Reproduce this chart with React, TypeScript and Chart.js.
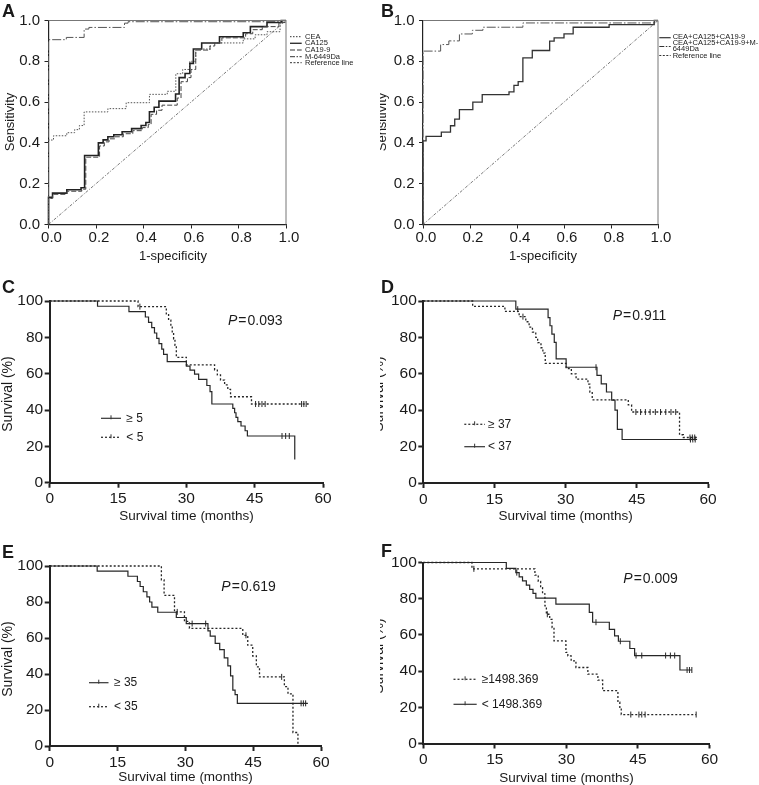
import React, { useEffect, useRef } from "react";
import { Chart, registerables } from "chart.js";
Chart.register(...registerables);

const FONT = "'Liberation Sans', Arial, Helvetica, sans-serif";

// ---------- tick labels ----------
const rocTickVals = [0, 0.2, 0.4, 0.6, 0.8, 1.0];
const rocTickLabels = ["0.0", "0.2", "0.4", "0.6", "0.8", "1.0"];
const survXVals = [0, 15, 30, 45, 60];
const survXLabels = ["0", "15", "30", "45", "60"];
const survYVals = [0, 20, 40, 60, 80, 100];
const survYLabels = ["0", "20", "40", "60", "80", "100"];

// ---------- Panel A (ROC, single markers) ----------
const refX = [0, 1];
const refY = [0, 1];
const ceaFpr = [0, 0, 0.021, 0.077, 0.11, 0.13, 0.15, 0.25, 0.327, 0.425, 0.5, 0.536, 0.565, 0.595, 0.62, 0.68, 0.82, 0.87, 0.92, 0.975, 1];
const ceaTpr = [0, 0.414, 0.435, 0.45, 0.465, 0.485, 0.552, 0.568, 0.597, 0.638, 0.653, 0.739, 0.76, 0.8, 0.86, 0.89, 0.91, 0.93, 0.945, 1.0, 1.0];
const ca125Fpr = [0, 0, 0.017, 0.077, 0.137, 0.152, 0.21, 0.23, 0.25, 0.275, 0.31, 0.35, 0.39, 0.41, 0.425, 0.445, 0.465, 0.535, 0.55, 0.575, 0.595, 0.61, 0.645, 0.72, 0.82, 0.85, 0.92, 0.98, 1];
const ca125Tpr = [0, 0.133, 0.154, 0.17, 0.18, 0.338, 0.4, 0.415, 0.43, 0.44, 0.455, 0.47, 0.485, 0.5, 0.553, 0.575, 0.605, 0.64, 0.72, 0.74, 0.79, 0.86, 0.89, 0.92, 0.94, 0.97, 0.99, 1.0, 1.0];
const ca199Fpr = [0, 0, 0.017, 0.077, 0.14, 0.157, 0.215, 0.235, 0.255, 0.28, 0.315, 0.355, 0.395, 0.42, 0.432, 0.455, 0.478, 0.542, 0.558, 0.585, 0.6, 0.62, 0.68, 0.7, 0.73, 0.83, 0.86, 0.9, 0.97, 1];
const ca199Tpr = [0, 0.128, 0.148, 0.163, 0.173, 0.33, 0.385, 0.405, 0.42, 0.43, 0.445, 0.46, 0.475, 0.49, 0.54, 0.56, 0.585, 0.62, 0.7, 0.72, 0.76, 0.855, 0.875, 0.89, 0.915, 0.935, 0.955, 0.97, 0.99, 1.0];
const m6449Fpr = [0, 0, 0.075, 0.15, 0.17, 0.32, 0.335, 0.985, 1];
const m6449Tpr = [0, 0.906, 0.917, 0.958, 0.966, 0.987, 0.994, 1.0, 1.0];

// ---------- Panel B (ROC, combinations) ----------
const combo3Fpr = [0, 0, 0.013, 0.078, 0.117, 0.135, 0.155, 0.212, 0.252, 0.366, 0.387, 0.405, 0.425, 0.465, 0.539, 0.558, 0.6, 0.639, 0.792, 0.984, 1];
const combo3Tpr = [0, 0.41, 0.432, 0.453, 0.484, 0.517, 0.563, 0.6, 0.637, 0.65, 0.682, 0.7, 0.817, 0.853, 0.899, 0.915, 0.934, 0.967, 0.98, 1.0, 1.0];
const combo4Fpr = [0, 0, 0.075, 0.11, 0.155, 0.21, 0.255, 0.425, 0.984, 1];
const combo4Tpr = [0, 0.85, 0.882, 0.9, 0.934, 0.952, 0.967, 0.988, 1.0, 1.0];

// ---------- Panel C (survival) ----------
const cHighT = [0, 10.5, 17.4, 21.0, 21.7, 22.4, 23.0, 23.5, 24.0, 24.6, 25.0, 25.8, 30.0, 30.8, 31.8, 32.7, 34.5, 35.2, 35.6, 40.2, 40.6, 40.9, 41.3, 42.0, 42.9, 43.4, 53.8];
const cHighS = [100, 97.1, 94.1, 91.2, 88.2, 85.3, 82.4, 79.4, 76.5, 73.5, 70.6, 66.6, 64.2, 62.0, 59.8, 56.9, 53.5, 50.1, 43.3, 40.9, 38.5, 36.0, 33.6, 31.2, 28.6, 25.7, 12.8];
const cHighCens = [51.0, 51.8, 52.6];
const cLowT = [0, 19.4, 25.6, 26.1, 26.6, 26.9, 27.2, 27.5, 27.8, 30.0, 36.2, 36.8, 37.5, 38.4, 39.1, 39.7, 44.3, 57.1];
const cLowS = [100, 96.9, 92.9, 89.4, 86.0, 82.5, 79.1, 75.6, 69.0, 64.8, 62.0, 59.3, 56.5, 53.8, 51.4, 47.3, 43.3, 43.3];
const cLowCens = [19.8, 45.2, 45.9, 46.6, 47.3, 55.3, 55.8, 56.3];

// ---------- Panel D ----------
const dHighT = [0, 10.4, 17.2, 20.2, 21.6, 22.3, 23.0, 23.7, 24.1, 24.8, 25.2, 25.7, 30.1, 31.2, 32.2, 34.7, 35.1, 35.6, 43.2, 43.9, 54.0, 54.8, 57.7];
const dHighS = [100, 97.1, 94.3, 91.4, 88.6, 85.7, 82.9, 80.0, 77.1, 74.3, 71.4, 65.7, 62.9, 60.0, 57.1, 54.3, 50.0, 45.7, 42.9, 39.0, 26.5, 25.0, 25.0];
const dHighCens = [21.0, 44.8, 45.8, 46.8, 47.8, 48.9, 50.0, 51.1, 52.2, 53.2, 56.2, 56.7, 57.2];
const dLowT = [0, 19.5, 26.3, 26.7, 27.1, 27.6, 28.0, 30.1, 36.6, 37.5, 38.6, 39.7, 40.4, 40.9, 41.9, 57.7];
const dLowS = [100, 95.5, 90.9, 86.4, 81.8, 77.3, 68.2, 63.6, 59.1, 54.5, 50.0, 45.5, 40.0, 29.5, 23.9, 23.9];
const dLowCens = [19.9, 36.4, 56.3, 56.8, 57.3];

// ---------- Panel E ----------
const eHighT = [0, 10.5, 17.3, 19.4, 20.0, 20.7, 21.5, 22.1, 22.6, 23.9, 28.0, 30.2, 35.0, 35.5, 36.6, 37.6, 38.6, 39.4, 40.0, 40.5, 41.0, 41.5, 57.1];
const eHighS = [100, 97.1, 94.3, 91.4, 88.6, 85.7, 82.9, 80.0, 77.1, 74.3, 71.4, 68.0, 64.0, 61.0, 57.0, 53.5, 49.0, 44.5, 39.0, 31.0, 28.5, 23.7, 23.7];
const eHighCens = [31.5, 34.5, 55.6, 56.1, 56.6];
const eLowT = [0, 24.7, 25.3, 27.6, 29.8, 30.9, 42.7, 43.8, 44.9, 45.7, 46.4, 51.9, 52.7, 53.8, 54.9];
const eLowS = [100, 92.3, 83.7, 74.5, 69.2, 65.4, 61.5, 56.0, 50.0, 44.0, 38.4, 33.0, 29.0, 7.5, 0];
const eLowCens = [28.2, 43.4, 51.3];

// ---------- Panel F ----------
const fHighT = [0, 10.2, 23.4, 24.1, 24.6, 25.0, 25.5, 25.8, 26.5, 27.0, 27.4, 29.9, 30.3, 31.0, 32.0, 34.5, 36.6, 37.6, 40.8, 41.2, 41.5, 57.2];
const fHighS = [100, 96.5, 93.0, 89.6, 86.1, 82.7, 76.0, 71.4, 68.6, 64.0, 56.7, 50.3, 48.4, 45.7, 42.0, 38.3, 35.0, 29.2, 22.8, 19.5, 16.0, 16.0];
const fHighCens = [10.6, 26.0, 43.5, 45.2, 45.8, 46.5, 57.2];
const fLowT = [0, 17.4, 19.4, 20.1, 20.8, 21.6, 22.3, 23.0, 23.6, 27.8, 34.8, 35.5, 39.0, 40.1, 40.9, 43.3, 44.3, 53.8, 56.3];
const fLowS = [100, 96.7, 94.4, 92.1, 89.8, 87.5, 85.2, 82.9, 80.3, 77.0, 72.5, 67.0, 63.0, 59.5, 56.5, 52.5, 48.6, 40.6, 40.6];
const fLowCens = [19.6, 36.2, 41.3, 44.6, 45.8, 50.8, 51.8, 52.7, 55.3, 55.8, 56.3];

// ---------- types ----------
type Txt = { t: string; x: number; y: number; size: number; bold?: boolean; italic?: boolean; align?: CanvasTextAlign; base?: CanvasTextBaseline; rot?: boolean };
type LegLine = { x1: number; x2: number; y: number; dash: number[]; width: number; tick?: boolean };
type Ser = { xs: number[]; ys: number[]; dash: number[]; width: number; color: string; stepped: boolean; cens?: number[] };
type Ax = { min: number; max: number; vals: number[]; labels: string[]; size: number; tickLen: number; pad: number; labelOffset?: number; border: number; tickWidth: number };
type PVal = { v: string; x: number; y: number };
type Spec = { id: string; left: number; top: number; w: number; h: number; area: { l: number; t: number; r: number; b: number }; x: Ax; y: Ax; series: Ser[]; frame: boolean; texts: Txt[]; legend: LegLine[]; pvals: PVal[] };

const DASH_DOT = [9, 2, 1.5, 2];
const REF_DASH = [3, 1.5, 1, 1.5];
const DOTS = [1.5, 1.5];
const SURV_DOT = [2, 2];

const rocX: Ax = { min: 0, max: 1, vals: rocTickVals, labels: rocTickLabels, size: 15, tickLen: 4, pad: 0, labelOffset: 3, border: 1.2, tickWidth: 1 };
const rocY: Ax = { min: 0, max: 1, vals: rocTickVals, labels: rocTickLabels, size: 15, tickLen: 4, pad: 4.5, border: 1.2, tickWidth: 1 };
const svX: Ax = { min: 0, max: 60, vals: survXVals, labels: survXLabels, size: 15.5, tickLen: 5, pad: 2, border: 2, tickWidth: 2 };
const svY: Ax = { min: 0, max: 100, vals: survYVals, labels: survYLabels, size: 15.5, tickLen: 5, pad: 1.5, border: 2, tickWidth: 2 };

const SC = "#262626";

function survPanel(id: string, left: number, top: number, h: number, area: Spec["area"], solid: Ser, dotted: Ser, letterY: number, yTitle: [number, number], xTitle: [number, number], p: PVal, leg: { solidY: number; dotY: number; x1: number; x2: number; tx: number; solidLabel: string; dotLabel: string }): Spec {
  return {
    id, left, top, w: left === 0 ? 380 : 379, h, area, x: svX, y: svY,
    series: [dotted, solid], frame: false,
    texts: [
      { t: id, x: left + (left === 0 ? 2 : 1), y: letterY, size: 18, bold: true, base: "alphabetic" },
      { t: "Survival (%)", x: yTitle[0], y: yTitle[1], size: 14, rot: true, align: "center" },
      { t: "Survival time (months)", x: xTitle[0], y: xTitle[1], size: 13.5, align: "center" },
      { t: leg.solidLabel, x: leg.tx, y: leg.solidY, size: 12 },
      { t: leg.dotLabel, x: leg.tx, y: leg.dotY, size: 12 },
    ],
    legend: [
      { x1: leg.x1, x2: leg.x2, y: leg.solidY, dash: [], width: 1.2, tick: true },
      { x1: leg.x1, x2: leg.x2, y: leg.dotY, dash: SURV_DOT, width: 1.3, tick: true },
    ],
    pvals: [p],
  };
}

const panels: Spec[] = [
  {
    id: "A", left: 0, top: 0, w: 380, h: 270, area: { l: 48.5, t: 20.5, r: 286, b: 224.5 }, x: rocX, y: rocY, frame: true,
    series: [
      { xs: refX, ys: refY, dash: REF_DASH, width: 0.8, color: "#555", stepped: false },
      { xs: ceaFpr, ys: ceaTpr, dash: DOTS, width: 1, color: "#555", stepped: true },
      { xs: ca199Fpr, ys: ca199Tpr, dash: [5, 2], width: 1, color: "#444", stepped: true },
      { xs: ca125Fpr, ys: ca125Tpr, dash: [], width: 1.6, color: "#222", stepped: true },
      { xs: m6449Fpr, ys: m6449Tpr, dash: DASH_DOT, width: 1, color: "#555", stepped: true },
    ],
    texts: [
      { t: "A", x: 2, y: 16.5, size: 18, bold: true, base: "alphabetic" },
      { t: "Sensitivity", x: 10, y: 122, size: 13, rot: true, align: "center" },
      { t: "1-specificity", x: 173, y: 256, size: 13, align: "center" },
      { t: "CEA", x: 305, y: 36.7, size: 7.5 },
      { t: "CA125", x: 305, y: 43.3, size: 7.5 },
      { t: "CA19-9", x: 305, y: 50, size: 7.5 },
      { t: "M-6449Da", x: 305, y: 56.7, size: 7.5 },
      { t: "Reference line", x: 305, y: 62.7, size: 7.5 },
    ],
    legend: [
      { x1: 290, x2: 301.7, y: 36.7, dash: DOTS, width: 1 },
      { x1: 290, x2: 301.7, y: 43.3, dash: [], width: 1.4 },
      { x1: 290, x2: 301.7, y: 50, dash: [5, 2], width: 1 },
      { x1: 290, x2: 301.7, y: 56.7, dash: [5, 1.5, 1.5, 1.5], width: 1 },
      { x1: 290, x2: 301.7, y: 62.7, dash: [2, 1.5], width: 1 },
    ],
    pvals: [],
  },
  {
    id: "B", left: 380, top: 0, w: 379, h: 270, area: { l: 423, t: 20.5, r: 658, b: 224.5 }, x: rocX, y: rocY, frame: true,
    series: [
      { xs: refX, ys: refY, dash: REF_DASH, width: 0.8, color: "#555", stepped: false },
      { xs: combo3Fpr, ys: combo3Tpr, dash: [], width: 1.3, color: "#333", stepped: true },
      { xs: combo4Fpr, ys: combo4Tpr, dash: DASH_DOT, width: 1, color: "#555", stepped: true },
    ],
    texts: [
      { t: "B", x: 381, y: 16.5, size: 18, bold: true, base: "alphabetic" },
      { t: "Sensitivity", x: 382, y: 122, size: 13, rot: true, align: "center" },
      { t: "1-specificity", x: 543, y: 256, size: 13, align: "center" },
      { t: "CEA+CA125+CA19-9", x: 672.7, y: 36.7, size: 7.5 },
      { t: "CEA+CA125+CA19-9+M-", x: 672.7, y: 43, size: 7.5 },
      { t: "6449Da", x: 672.7, y: 49.3, size: 7.5 },
      { t: "Reference line", x: 672.7, y: 55.5, size: 7.5 },
    ],
    legend: [
      { x1: 659.3, x2: 670.7, y: 37.7, dash: [], width: 1.2 },
      { x1: 659.3, x2: 670.7, y: 46.5, dash: [5, 1.5, 1.5, 1.5], width: 1 },
      { x1: 659.3, x2: 670.7, y: 55.5, dash: [2, 1.5], width: 1 },
    ],
    pvals: [],
  },
  survPanel("C", 0, 270, 255, { l: 49.7, t: 301, r: 323, b: 482.7 },
    { xs: cHighT, ys: cHighS, dash: [], width: 1.2, color: SC, stepped: true, cens: cHighCens },
    { xs: cLowT, ys: cLowS, dash: SURV_DOT, width: 1.3, color: SC, stepped: true, cens: cLowCens },
    293, [8.5, 394], [186.5, 516], { v: "0.093", x: 228, y: 321 },
    { solidY: 418.3, dotY: 437.3, x1: 101, x2: 121, tx: 126.3, solidLabel: "≥ 5", dotLabel: "< 5" }),
  survPanel("D", 380, 270, 255, { l: 423.3, t: 301, r: 708, b: 483 },
    { xs: dLowT, ys: dLowS, dash: [], width: 1.2, color: SC, stepped: true, cens: dLowCens },
    { xs: dHighT, ys: dHighS, dash: SURV_DOT, width: 1.3, color: SC, stepped: true, cens: dHighCens },
    293, [379, 394], [565.6, 516], { v: "0.911", x: 612.7, y: 316 },
    { solidY: 446.7, dotY: 424.3, x1: 464.3, x2: 485, tx: 488, solidLabel: "< 37", dotLabel: "≥ 37" }),
  survPanel("E", 0, 525, 260, { l: 49.7, t: 566, r: 321, b: 746 },
    { xs: eHighT, ys: eHighS, dash: [], width: 1.2, color: SC, stepped: true, cens: eHighCens },
    { xs: eLowT, ys: eLowS, dash: SURV_DOT, width: 1.3, color: SC, stepped: true, cens: eLowCens },
    558, [8.5, 659], [185.5, 777], { v: "0.619", x: 221.3, y: 587.3 },
    { solidY: 682.7, dotY: 706.7, x1: 89, x2: 108.5, tx: 114, solidLabel: "≥ 35", dotLabel: "< 35" }),
  survPanel("F", 380, 525, 260, { l: 423.3, t: 562.5, r: 709.5, b: 743.5 },
    { xs: fLowT, ys: fLowS, dash: [], width: 1.2, color: SC, stepped: true, cens: fLowCens },
    { xs: fHighT, ys: fHighS, dash: SURV_DOT, width: 1.3, color: SC, stepped: true, cens: fHighCens },
    556.5, [379, 656], [566.5, 778], { v: "0.009", x: 623.3, y: 578.7 },
    { solidY: 704.3, dotY: 679.3, x1: 453.5, x2: 476.7, tx: 481.7, solidLabel: "< 1498.369", dotLabel: "≥1498.369" }),
];

function stepAt(xs: number[], ys: number[], t: number): number {
  let v = ys[0];
  for (let i = 0; i < xs.length; i++) if (xs[i] <= t) v = ys[i];
  return v;
}

function buildConfig(s: Spec): any {
  const YW = 40, XH = 30;
  const padding = {
    left: s.area.l - s.left - YW,
    top: s.area.t - s.top,
    right: s.left + s.w - s.area.r,
    bottom: s.top + s.h - s.area.b - XH,
  };
  const datasets: any[] = [];
  s.series.forEach((se) => {
    datasets.push({
      data: se.xs.map((x, i) => ({ x, y: se.ys[i] })),
      borderColor: se.color, borderWidth: se.width, borderDash: se.dash,
      stepped: se.stepped ? "before" : false, pointRadius: 0, fill: false, clip: false, tension: 0,
    });
    if (se.cens) {
      datasets.push({
        data: se.cens.map((t) => ({ x: t, y: stepAt(se.xs, se.ys, t) })),
        showLine: false, pointStyle: "line", rotation: 90, pointRadius: 3,
        pointBorderColor: se.color, pointBorderWidth: 1, borderColor: se.color, clip: false,
      });
    }
  });
  const axis = (a: Ax, isX: boolean) => ({
    type: "linear", min: a.min, max: a.max,
    afterBuildTicks: (sc: any) => { sc.ticks = a.vals.map((v) => ({ value: v })); },
    afterFit: (sc: any) => {
      if (isX) { sc.height = XH; sc.paddingLeft = 0; sc.paddingRight = 0; }
      else { sc.width = YW; sc.paddingTop = 0; sc.paddingBottom = 0; }
    },
    ticks: {
      autoSkip: false, maxRotation: 0, minRotation: 0, padding: a.pad, labelOffset: a.labelOffset || 0,
      color: "#1a1a1a", font: { family: FONT, size: a.size },
      callback: (_v: any, i: number) => a.labels[i],
    },
    grid: { display: true, drawOnChartArea: false, drawTicks: true, tickLength: a.tickLen, tickWidth: a.tickWidth, tickColor: "#222", color: "#222" },
    border: { display: true, color: "#222", width: a.border },
  });
  const overlay = {
    id: "overlay" + s.id,
    afterDraw(chart: any) {
      const ctx: CanvasRenderingContext2D = chart.ctx;
      const ox = s.left, oy = s.top;
      ctx.save();
      if (s.frame) {
        const a = chart.chartArea;
        ctx.strokeStyle = "#777"; ctx.lineWidth = 1; ctx.setLineDash([]);
        ctx.beginPath(); ctx.moveTo(a.left, a.top); ctx.lineTo(a.right, a.top); ctx.lineTo(a.right, a.bottom); ctx.stroke();
      }
      for (const l of s.legend) {
        ctx.strokeStyle = "#333"; ctx.lineWidth = l.width; ctx.setLineDash(l.dash);
        ctx.beginPath(); ctx.moveTo(l.x1 - ox, l.y - oy); ctx.lineTo(l.x2 - ox, l.y - oy); ctx.stroke();
        if (l.tick) {
          const mx = (l.x1 + l.x2) / 2 - ox;
          ctx.setLineDash([]); ctx.lineWidth = 1;
          ctx.beginPath(); ctx.moveTo(mx, l.y - oy - 3); ctx.lineTo(mx, l.y - oy + 1); ctx.stroke();
        }
      }
      ctx.setLineDash([]);
      ctx.fillStyle = "#1a1a1a";
      for (const t of s.texts) {
        ctx.font = `${t.italic ? "italic " : ""}${t.bold ? "bold " : ""}${t.size}px ${FONT}`;
        ctx.textAlign = t.align || "left";
        ctx.textBaseline = t.base || "middle";
        if (t.rot) {
          ctx.save(); ctx.translate(t.x - ox, t.y - oy); ctx.rotate(-Math.PI / 2); ctx.fillText(t.t, 0, 0); ctx.restore();
        } else {
          ctx.fillText(t.t, t.x - ox, t.y - oy);
        }
      }
      for (const p of s.pvals) {
        ctx.textAlign = "left"; ctx.textBaseline = "middle";
        let x = p.x - ox; const y = p.y - oy;
        ctx.font = `italic 14px ${FONT}`; ctx.fillText("P", x, y); x += ctx.measureText("P").width + 1;
        ctx.font = `14px ${FONT}`; ctx.fillText("=", x, y); x += ctx.measureText("=").width + 1;
        ctx.fillText(p.v, x, y);
      }
      ctx.restore();
    },
  };
  return {
    type: "line",
    data: { datasets },
    options: {
      animation: false, responsive: false, events: [],
      layout: { padding },
      elements: { point: { radius: 0 }, line: { tension: 0 } },
      plugins: { legend: { display: false }, tooltip: { enabled: false }, title: { display: false } },
      scales: { x: axis(s.x, true), y: axis(s.y, false) },
    },
    plugins: [overlay],
  };
}

function Panel({ spec }: { spec: Spec }) {
  const ref = useRef<HTMLCanvasElement>(null);
  useEffect(() => {
    const chart = new Chart(ref.current as HTMLCanvasElement, buildConfig(spec));
    return () => chart.destroy();
  }, [spec]);
  return (
    <canvas
      ref={ref}
      width={spec.w}
      height={spec.h}
      style={{ position: "absolute", left: spec.left, top: spec.top, width: spec.w, height: spec.h }}
    />
  );
}

export default function App() {
  return (
    <div style={{ position: "absolute", left: 0, top: 0, width: 759, height: 785, background: "#fff", overflow: "hidden" }}>
      {panels.map((p) => (
        <Panel key={p.id} spec={p} />
      ))}
    </div>
  );
}
